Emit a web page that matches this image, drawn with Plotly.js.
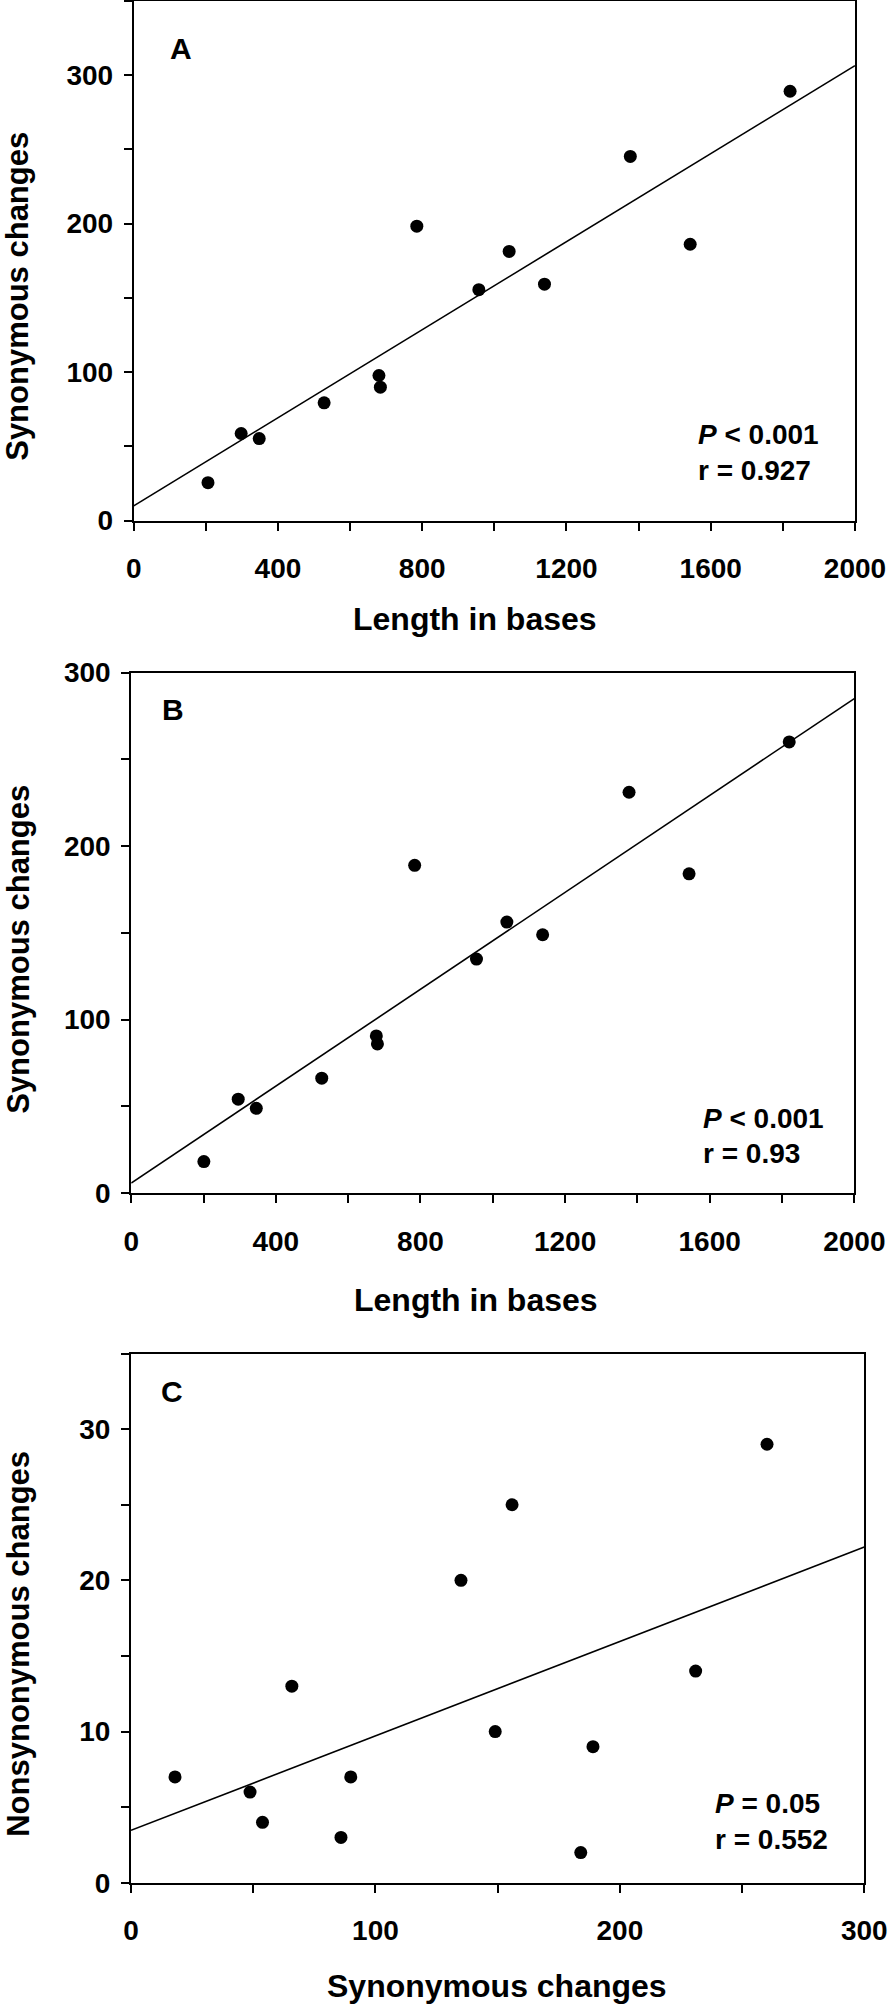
<!DOCTYPE html>
<html>
<head>
<meta charset="utf-8">
<script src="https://cdn.plot.ly/plotly-3.0.1.min.js"></script>
<style>html,body{margin:0;padding:0;background:#fff;}#chart{width:896px;height:2006px;}</style>
</head>
<body>
<div id="chart"></div>
<script>
// ---- Data ----
// Panel A
const lengthA = [206, 298, 348, 528, 680, 684, 785, 957, 1041, 1139, 1377, 1543, 1820];
const synA = [25.5, 58.6, 55.2, 79.3, 97.7, 89.8, 198.3, 155.5, 181.3, 159.2, 245.3, 186.1, 289.2];
const fitXA = [0, 2000];
const fitYA = [9.9, 306.5];
// Panel B
const lengthB = [201, 296, 346, 527, 678, 681, 784, 955, 1039, 1138, 1377, 1543, 1820];
const synB = [18.2, 54.2, 48.9, 66.3, 90.6, 86, 188.9, 134.9, 156.2, 148.9, 231, 184, 260];
const fitXB = [0, 2000];
const fitYB = [5.8, 285];
// Panel C
const synC = [18, 48.7, 53.8, 65.8, 85.9, 89.9, 135, 149, 155.9, 184, 189, 231, 260.2];
const nonsynC = [7, 6, 4, 13, 3, 7, 20, 10, 25, 2, 9, 14, 29];
const fitXC = [0, 300];
const fitYC = [3.47, 22.2];
// Text
const panelLabels = ["A", "B", "C"];
const statsP = ["<i>P</i> &lt; 0.001", "<i>P</i> &lt; 0.001", "<i>P</i> = 0.05"];
const statsR = ["r = 0.927", "r = 0.93", "r = 0.552"];
const xTitles = ["Length in bases", "Length in bases", "Synonymous changes"];
const yTitles = ["Synonymous changes", "Synonymous changes", "Nonsynonymous changes"];

// ---- Layout helpers (pixel geometry) ----
const W = 896, H = 2006;
const FAM = "Arial, 'Liberation Sans', sans-serif";
const px = v => v / W;
const py = v => 1 - v / H;

const boxes = [
  {l: 133.7, r: 855, t: 1, b: 520.5},
  {l: 131.2, r: 854.3, t: 672.5, b: 1193.2},
  {l: 131.0, r: 864.3, t: 1353.5, b: 1882.8}
];

function axisBase(range, dtick, minorDtick, isX) {
  return {
    range: range, autorange: false, dtick: dtick, tick0: 0,
    showline: true, mirror: true, linecolor: '#000', linewidth: 2,
    ticks: 'outside', ticklen: 8, tickwidth: 2, tickcolor: '#000',
    showgrid: false, zeroline: false, fixedrange: true,
    tickfont: {family: FAM, size: 28, weight: 'bold', color: '#000'},
    ticklabelstandoff: isX ? 14 : 5,
    minor: {dtick: minorDtick, tick0: 0, ticks: 'outside', ticklen: 8, tickwidth: 2, tickcolor: '#000', showgrid: false}
  };
}

const layout = {
  width: W, height: H,
  margin: {l: 0, r: 0, t: 0, b: 0},
  paper_bgcolor: '#fff', plot_bgcolor: '#fff',
  showlegend: false,
  font: {family: FAM, color: '#000'},
  xaxis: Object.assign(axisBase([0, 2000], 400, 200, true), {domain: [px(boxes[0].l), px(boxes[0].r)], anchor: 'y'}),
  yaxis: Object.assign(axisBase([0, 350], 100, 50, false), {domain: [py(boxes[0].b), py(boxes[0].t)], anchor: 'x'}),
  xaxis2: Object.assign(axisBase([0, 2000], 400, 200, true), {domain: [px(boxes[1].l), px(boxes[1].r)], anchor: 'y2'}),
  yaxis2: Object.assign(axisBase([0, 300], 100, 50, false), {domain: [py(boxes[1].b), py(boxes[1].t)], anchor: 'x2'}),
  xaxis3: Object.assign(axisBase([0, 300], 100, 50, true), {domain: [px(boxes[2].l), px(boxes[2].r)], anchor: 'y3'}),
  yaxis3: Object.assign(axisBase([0, 35], 10, 5, false), {domain: [py(boxes[2].b), py(boxes[2].t)], anchor: 'x3'}),
  annotations: []
};

// annotation positions (pixels)
const labelPos = [[181, 48], [173, 710], [172, 1391.5]];
const pPos = [[697, 435], [701.5, 1118], [714, 1803.5]];
const rPos = [[697, 470.5], [701.5, 1153.5], [714, 1839.5]];
const xTitlePos = [[474.5, 619], [475.7, 1300], [497, 1986]];
const yTitlePos = [[17.8, 296], [17.8, 949], [17.8, 1644]];

function ann(text, x, y, size, opts) {
  return Object.assign({
    text: text, xref: 'paper', yref: 'paper', x: px(x), y: py(y),
    xanchor: 'center', yanchor: 'middle', showarrow: false, borderpad: 0,
    font: {family: FAM, size: size, weight: 'bold', color: '#000'}
  }, opts || {});
}

for (let i = 0; i < 3; i++) {
  layout.annotations.push(ann(panelLabels[i], labelPos[i][0], labelPos[i][1], 30));
  layout.annotations.push(ann(statsP[i], pPos[i][0], pPos[i][1], 28, {xanchor: 'left'}));
  layout.annotations.push(ann(statsR[i], rPos[i][0], rPos[i][1], 28, {xanchor: 'left'}));
  layout.annotations.push(ann(xTitles[i], xTitlePos[i][0], xTitlePos[i][1], 32));
  layout.annotations.push(ann(yTitles[i], yTitlePos[i][0], yTitlePos[i][1], 31, {textangle: -90}));
}

const mk = {color: '#000', size: 13, line: {width: 0}};
const ln = {color: '#000', width: 1.6};
const data = [
  {x: fitXA, y: fitYA, mode: 'lines', line: ln, xaxis: 'x', yaxis: 'y'},
  {x: lengthA, y: synA, mode: 'markers', marker: mk, xaxis: 'x', yaxis: 'y'},
  {x: fitXB, y: fitYB, mode: 'lines', line: ln, xaxis: 'x2', yaxis: 'y2'},
  {x: lengthB, y: synB, mode: 'markers', marker: mk, xaxis: 'x2', yaxis: 'y2'},
  {x: fitXC, y: fitYC, mode: 'lines', line: ln, xaxis: 'x3', yaxis: 'y3'},
  {x: synC, y: nonsynC, mode: 'markers', marker: mk, xaxis: 'x3', yaxis: 'y3'}
];

Plotly.newPlot('chart', data, layout, {staticPlot: true, displayModeBar: false});
</script>
</body>
</html>
